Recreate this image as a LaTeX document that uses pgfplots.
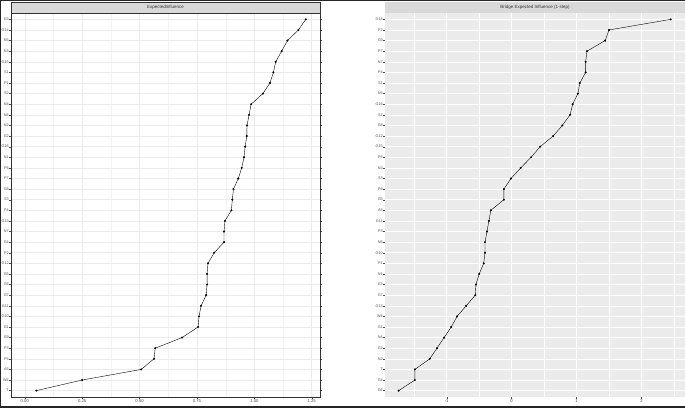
\documentclass[border=0pt]{standalone}
\usepackage{fontspec}
\setmainfont{Liberation Sans}
\usepackage{pgfplots}
\pgfplotsset{compat=1.18}
\definecolor{grey92}{RGB}{235,235,235}
\definecolor{grey85}{RGB}{217,217,217}
\definecolor{grey30}{RGB}{77,77,77}
\definecolor{grey20}{RGB}{51,51,51}
\pgfplotsset{
  facet/.style={
    scale only axis, anchor=south west,
    height=384bp, ymin=0.4, ymax=36.6,
    ytick={1,...,36},
    tick align=outside,
    major tick length=1.6bp, minor tick length=0pt,
    tick style={grey30, line width=0.3bp},
    every tick label/.append style={font=\fontsize{4.2}{5}\selectfont, text=grey30, inner sep=0.4bp},
    yticklabel style={font=\fontsize{3.8}{4.5}\selectfont},
    xticklabel style={yshift=-0.8bp},
    grid=both,
    mark options={solid},
  },
}
\begin{document}
\begin{tikzpicture}[x=1bp,y=1bp]
\useasboundingbox (0,0) rectangle (685,408);
\fill[white] (0,0) rectangle (685,408);

% left facet
\begin{axis}[facet, at={(11bp,11bp)}, width=309bp,
  xmin=-0.06, xmax=1.286,
  xtick={0,0.25,0.5,0.75,1,1.25},
  xticklabels={0.00,0.25,0.50,0.75,1.00,1.25},
  minor xtick={0.125,0.375,0.625,0.875,1.125},
  yticklabels={T,W4,A5,P5,P3,G9,G1,G10,G11,G7,G6,G5,G12,P2,G4,N7,G13,P4,S3,G8,P7,P6,N1,G16,G2,N2,N6,N4,S2,P1,S1,G15,N3,N5,G14,G3},
  major grid style={grey92, line width=0.5bp},
  minor grid style={grey92!60, line width=0.3bp},
  axis line style={grey20, line width=0.5bp},
]
\addplot[black, line width=0.4bp, mark=*, mark size=0.8bp] coordinates {
(0.05,1) (0.25,2) (0.507,3) (0.563,4) (0.568,5) (0.685,6) (0.755,7) (0.759,8)
(0.768,9) (0.790,10) (0.794,11) (0.794,12) (0.798,13) (0.825,14) (0.868,15)
(0.868,16) (0.872,17) (0.900,18) (0.904,19) (0.909,20) (0.930,21) (0.945,22)
(0.955,23) (0.960,24) (0.967,25) (0.968,26) (0.977,27) (0.986,28) (1.037,29)
(1.068,30) (1.083,31) (1.093,32) (1.119,33) (1.144,34) (1.192,35) (1.224,36)
};
\end{axis}

% right facet
\begin{axis}[facet, at={(385bp,11bp)}, width=300bp,
  xmin=-1.95, xmax=2.67,
  xtick={-1,0,1,2},
  xticklabels={-1,0,1,2},
  minor xtick={-1.5,-0.5,0.5,1.5,2.5},
  yticklabels={G6,G4,T,N2,G2,N4,G1,W4,G13,G7,G3,N1,P1,G10,N6,P3,G11,A5,G5,P6,S3,N3,P5,G15,G12,G8,S2,G16,N5,S1,P4,N7,P7,G9,P2,G14},
  axis background/.style={fill=grey92},
  major grid style={white, line width=0.5bp},
  minor grid style={white, line width=0.3bp},
  axis line style={draw=none},
]
\addplot[black, line width=0.4bp, mark=*, mark size=0.8bp] coordinates {
(-1.74,1) (-1.49,2) (-1.49,3) (-1.26,4) (-1.15,5) (-1.04,6) (-0.93,7) (-0.84,8)
(-0.70,9) (-0.56,10) (-0.55,11) (-0.50,12) (-0.43,13) (-0.41,14) (-0.41,15)
(-0.38,16) (-0.35,17) (-0.32,18) (-0.12,19) (-0.12,20) (-0.01,21) (0.14,22)
(0.30,23) (0.44,24) (0.64,25) (0.78,26) (0.90,27) (0.94,28) (1.02,29)
(1.05,30) (1.14,31) (1.14,32) (1.16,33) (1.44,34) (1.50,35) (2.45,36)
};
\end{axis}

% facet strips
\filldraw[fill=grey85, draw=grey20, line width=0.5bp] (11,395) rectangle (320,405.5);
\node[font=\fontsize{4.5}{5}\selectfont, text=black!80] at (165.5,400.2) {ExpectedInfluence};
\fill[grey85] (385,395) rectangle (685,406);
\node[font=\fontsize{4.5}{5}\selectfont, text=black!80] at (535,400.5) {Bridge Expected Influence (1-step)};

% screenshot frame
\fill[black!85] (0,406.5) rectangle (685,408);
\fill[black!85] (0,0) rectangle (1,408);
\fill[black!85] (0,0) rectangle (685,2.5);
\end{tikzpicture}
\end{document}
